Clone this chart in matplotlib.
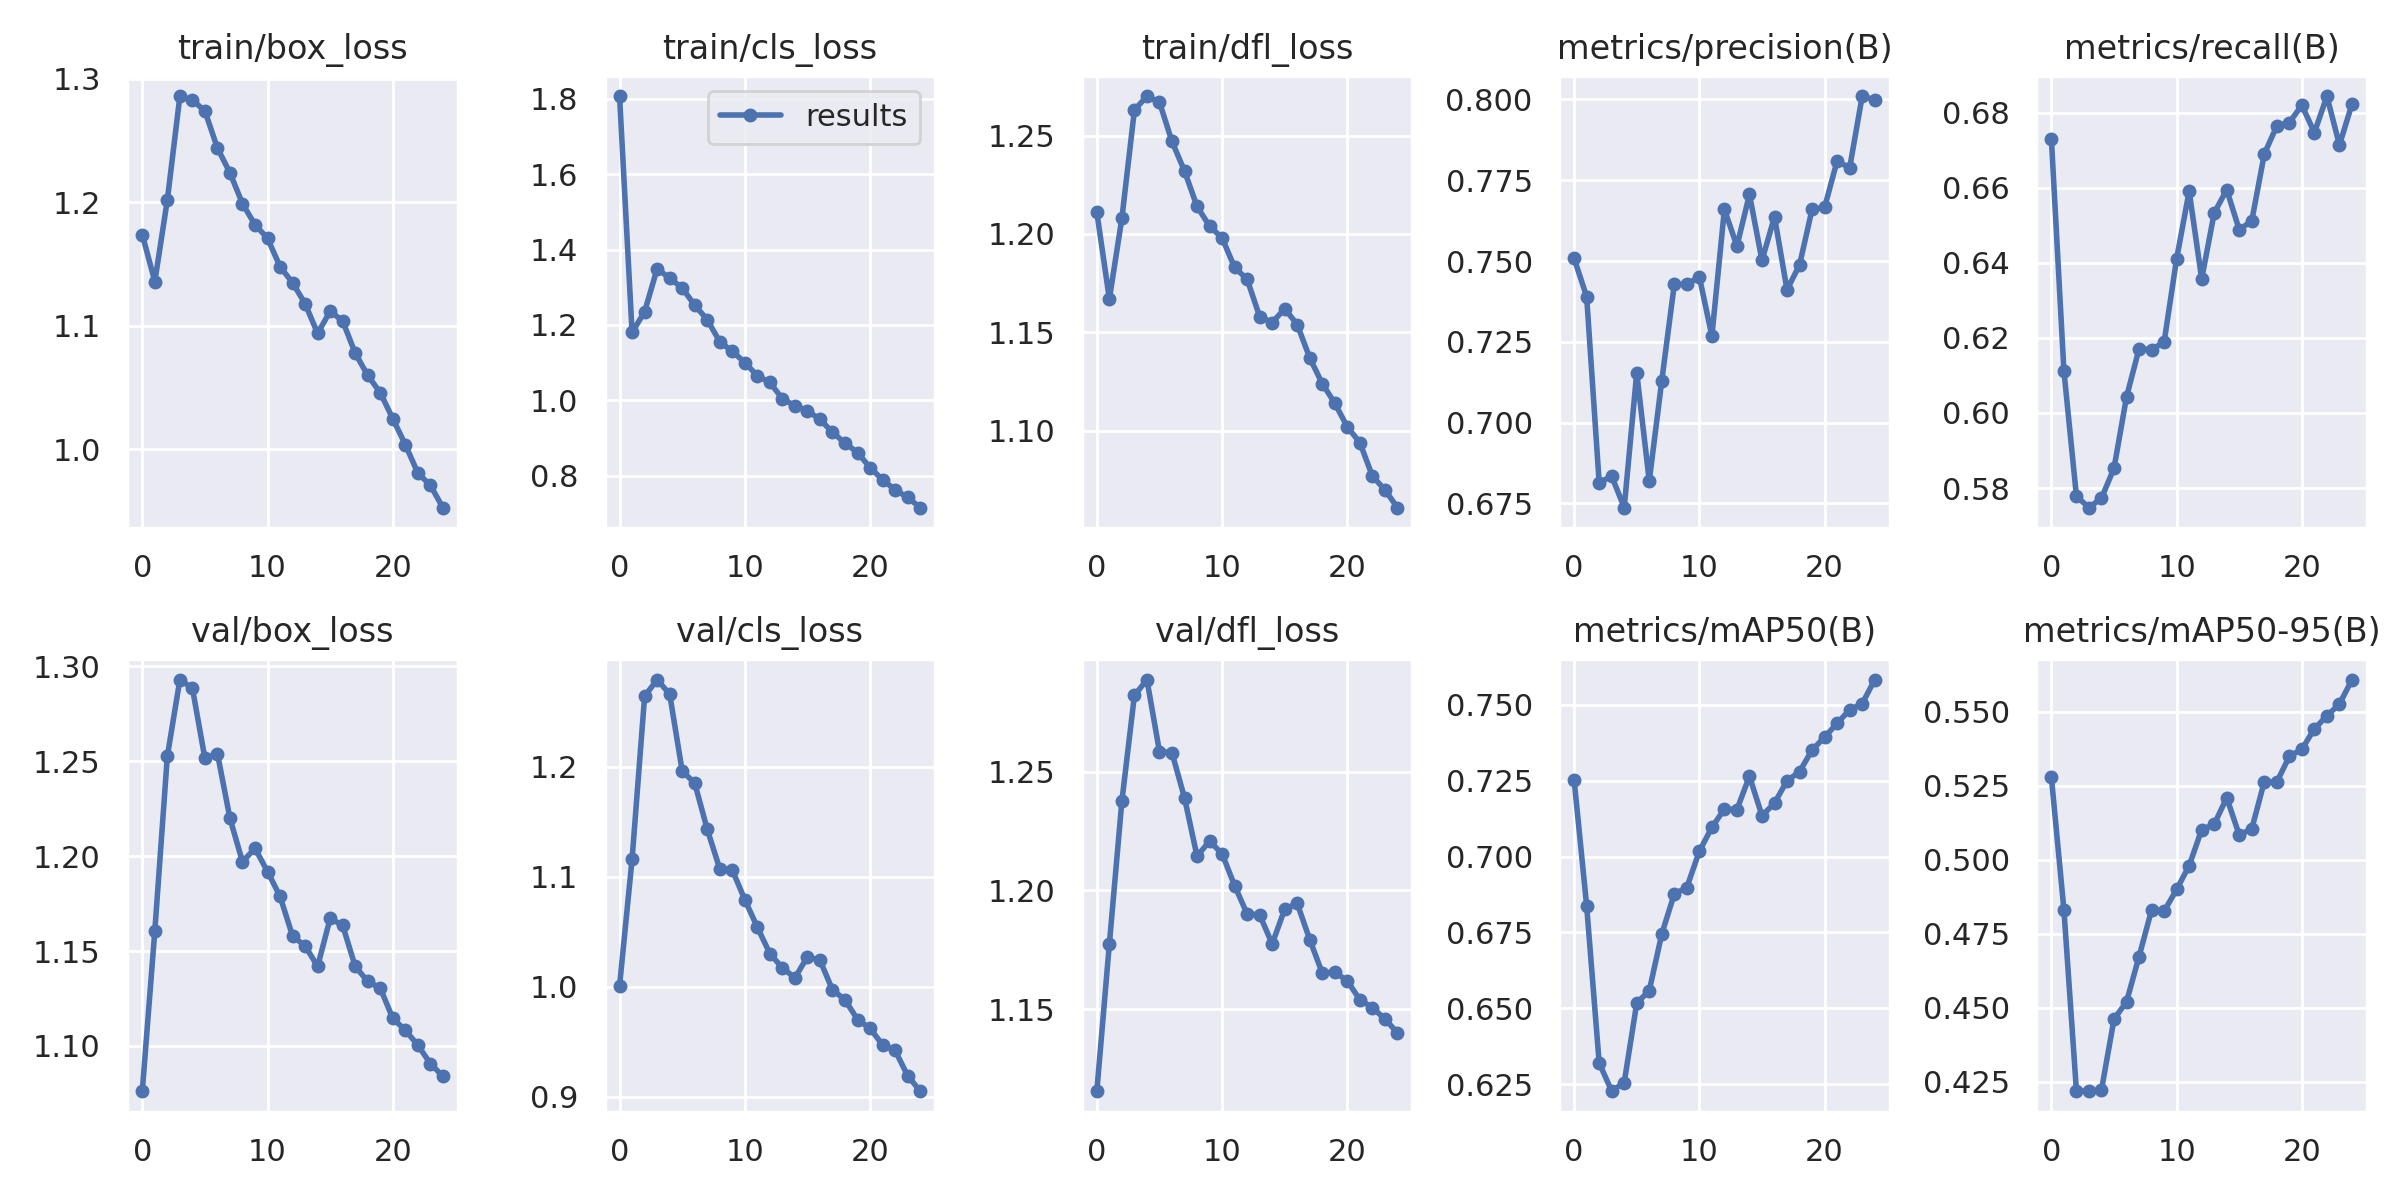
import matplotlib
matplotlib.use("Agg")
import matplotlib.pyplot as plt
import numpy as np
import seaborn as sns

epochs = np.arange(25)

titles = ["train/box_loss", "train/cls_loss", "train/dfl_loss",
          "metrics/precision(B)", "metrics/recall(B)",
          "val/box_loss", "val/cls_loss", "val/dfl_loss",
          "metrics/mAP50(B)", "metrics/mAP50-95(B)"]

train_box_loss = [1.174, 1.136, 1.202, 1.286, 1.283, 1.274, 1.244, 1.224, 1.199, 1.182,
                  1.171, 1.148, 1.135, 1.118, 1.094, 1.112, 1.104, 1.078, 1.060, 1.046,
                  1.025, 1.004, 0.981, 0.971, 0.953]
train_cls_loss = [1.807, 1.180, 1.235, 1.349, 1.324, 1.298, 1.252, 1.214, 1.155, 1.130,
                  1.100, 1.065, 1.047, 1.004, 0.985, 0.972, 0.949, 0.915, 0.886, 0.861,
                  0.821, 0.789, 0.762, 0.742, 0.715]
train_dfl_loss = [1.211, 1.167, 1.208, 1.263, 1.270, 1.267, 1.247, 1.232, 1.214, 1.204,
                  1.198, 1.183, 1.177, 1.158, 1.155, 1.162, 1.154, 1.137, 1.124, 1.114,
                  1.102, 1.094, 1.077, 1.070, 1.061]
precision = [0.7508, 0.739, 0.6814, 0.6834, 0.6737, 0.7154, 0.6819, 0.7130, 0.7428, 0.7428,
             0.7451, 0.7268, 0.7660, 0.7546, 0.7706, 0.7502, 0.7637, 0.7411, 0.7488, 0.7660,
             0.7666, 0.7810, 0.7788, 0.8010, 0.7999]
recall = [0.673, 0.6112, 0.5778, 0.5748, 0.5773, 0.5853, 0.6043, 0.6171, 0.6169, 0.6189,
          0.6411, 0.6591, 0.6357, 0.6533, 0.6595, 0.6488, 0.6512, 0.669, 0.6765, 0.6774,
          0.682, 0.6747, 0.6844, 0.6714, 0.6823]
val_box_loss = [1.0762, 1.1606, 1.2527, 1.293, 1.2886, 1.2515, 1.2541, 1.2199, 1.1971, 1.2041,
                1.1919, 1.1788, 1.1579, 1.1527, 1.1419, 1.1672, 1.1635, 1.1419, 1.134, 1.1305,
                1.1145, 1.1083, 1.1004, 1.0907, 1.084]
val_cls_loss = [1.0007, 1.116, 1.264, 1.279, 1.266, 1.196, 1.185, 1.143, 1.107, 1.106,
                1.079, 1.054, 1.030, 1.017, 1.008, 1.027, 1.024, 0.997, 0.988, 0.970,
                0.962, 0.947, 0.942, 0.919, 0.905]
val_dfl_loss = [1.1156, 1.1775, 1.2376, 1.282, 1.2886, 1.2584, 1.2579, 1.2389, 1.2144, 1.2207,
                1.2154, 1.202, 1.1901, 1.1897, 1.1775, 1.1921, 1.1945, 1.1793, 1.1652, 1.1657,
                1.1619, 1.154, 1.1507, 1.1459, 1.1401]
map50 = [0.7253, 0.6838, 0.632, 0.6227, 0.6255, 0.6517, 0.6558, 0.6745, 0.6877, 0.6898,
         0.7018, 0.7096, 0.7157, 0.7155, 0.7265, 0.7135, 0.7176, 0.725, 0.728, 0.7351,
         0.7394, 0.7439, 0.7484, 0.7504, 0.7583]
map50_95 = [0.5279, 0.4831, 0.4218, 0.4218, 0.4222, 0.4461, 0.452, 0.4673, 0.483, 0.4826,
            0.490, 0.498, 0.5102, 0.512, 0.521, 0.5084, 0.5105, 0.5264, 0.5263, 0.535,
            0.5374, 0.5443, 0.5487, 0.5527, 0.5609]

series = [train_box_loss, train_cls_loss, train_dfl_loss, precision, recall,
          val_box_loss, val_cls_loss, val_dfl_loss, map50, map50_95]

sns.set_theme(style="darkgrid")
plt.rcParams["font.size"] = 11

fig, ax = plt.subplots(2, 5, figsize=(12, 6), tight_layout=True)
ax = ax.ravel()
for i, (t, y) in enumerate(zip(titles, series)):
    ax[i].plot(epochs, y, marker=".", label="results", linewidth=2, markersize=8)
    ax[i].set_title(t, fontsize=12)
ax[1].legend()

fig.savefig("out.png", dpi=200)
